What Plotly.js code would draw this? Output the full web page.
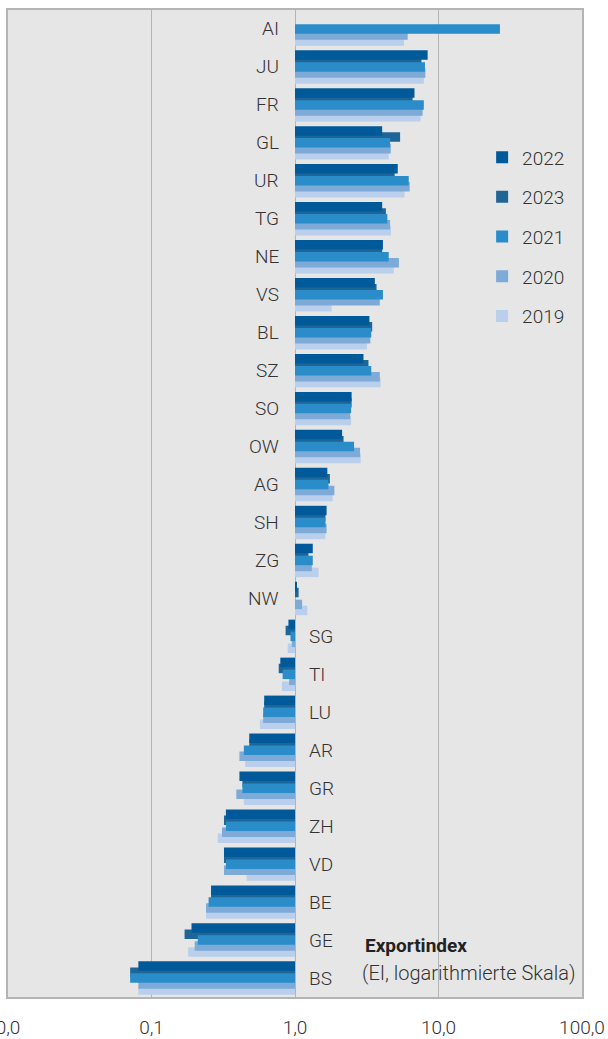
<!DOCTYPE html>
<html>
<head>
<meta charset="utf-8">
<script src="https://cdn.plot.ly/plotly-3.0.1.min.js"></script>
<style>
  html, body { margin: 0; padding: 0; background: #fff; }
  #chart { width: 608px; height: 1039px; }
</style>
</head>
<body>
<div id="chart"></div>
<script>
// Exportindex per Kanton, log scale, bars start at 1.0

var cantons = ['AI', 'JU', 'FR', 'GL', 'UR', 'TG', 'NE', 'VS', 'BL', 'SZ', 'SO', 'OW', 'AG',
               'SH', 'ZG', 'NW', 'SG', 'TI', 'LU', 'AR', 'GR', 'ZH', 'VD', 'BE', 'GE', 'BS'];

var ei2022 = [null, 8.4, 6.8, 4.05, 5.2, 4.05, 4.1, 3.6, 3.3, 3.0, 2.48, 2.13, 1.68,
              1.66, 1.33, 1.02, 0.90, 0.79, 0.61, 0.48, 0.41, 0.33, 0.32, 0.26, 0.19, 0.081];
var ei2023 = [null, 7.6, 6.6, 5.4, 4.95, 4.3, 4.05, 3.7, 3.45, 3.25, 2.48, 2.18, 1.75,
              1.63, 1.24, 1.06, 0.86, 0.77, 0.61, 0.48, 0.43, 0.32, 0.32, 0.26, 0.17, 0.071];
var ei2021 = [26.8, 8.05, 7.9, 4.6, 6.2, 4.4, 4.5, 4.1, 3.4, 3.4, 2.46, 2.58, 1.71,
              1.63, 1.33, 1.0, 0.93, 0.82, 0.60, 0.44, 0.43, 0.33, 0.33, 0.25, 0.21, 0.071];
var ei2020 = [6.1, 8.1, 7.75, 4.65, 6.3, 4.6, 5.3, 3.9, 3.35, 3.9, 2.42, 2.84, 1.88,
              1.66, 1.31, 1.12, 0.95, 0.91, 0.60, 0.41, 0.39, 0.31, 0.32, 0.24, 0.20, 0.081];
var ei2019 = [5.75, 7.9, 7.5, 4.5, 5.8, 4.66, 4.87, 1.8, 3.17, 3.95, 2.46, 2.87, 1.83,
              1.63, 1.46, 1.22, 0.89, 0.81, 0.57, 0.45, 0.44, 0.29, 0.46, 0.24, 0.18, 0.081];

var tickVals = [0.01, 0.1, 1, 10, 100];
var tickText = ['0,0', '0,1', '1,0', '10,0', '100,0'];

var font = 'Roboto, "Open Sans", sans-serif';
var fontSize = 19;

// bars grow from 1.0, so the bar length is value - 1
function fromOne(arr) {
    return arr.map(function (v) { return v === null ? null : v - 1; });
}

function barTrace(name, values, color, offset, rank) {
    return {
        type: 'bar',
        orientation: 'h',
        name: name,
        y: cantons,
        x: fromOne(values),
        base: 1,
        offset: offset,
        width: 0.25,
        legendrank: rank,
        legendgroup: name,
        marker: { color: color, line: { width: 0 } },
        hovertemplate: '%{y}: %{customdata}<extra>' + name + '</extra>',
        customdata: values
    };
}

// drawing order: later traces sit on top
var data = [
    barTrace('2019', ei2019, '#b9cfeb', 0.19, 5),
    barTrace('2020', ei2020, '#7daad7', 0.033, 4),
    barTrace('2023', ei2023, '#1f6697', -0.28, 2),
    barTrace('2022', ei2022, '#005a99', -0.44, 1),
    barTrace('2021', ei2021, '#2a8cc8', -0.125, 3)
];

// canton labels next to the 1.0 line, on the side away from the bars
var annotations = cantons.map(function (c, i) {
    var v = ei2022[i] !== null ? ei2022[i] : ei2021[i];
    var pos = v >= 1;
    return {
        xref: 'x', yref: 'y',
        x: 0, y: c,
        text: c,
        showarrow: false,
        xanchor: pos ? 'right' : 'left',
        xshift: pos ? -14 : 12,
        font: { family: font, size: fontSize, color: '#333333', weight: 300 }
    };
});

annotations.push({
    xref: 'paper', yref: 'paper',
    x: (363 - 8) / 574, y: 1 - (945 - 10) / 987,
    xanchor: 'left', yanchor: 'middle',
    text: '<b>Exportindex</b>',
    showarrow: false,
    font: { family: font, size: 19, color: '#222222' }
});
annotations.push({
    xref: 'paper', yref: 'paper',
    x: (360 - 8) / 574, y: 1 - (973 - 10) / 987,
    xanchor: 'left', yanchor: 'middle',
    text: '(EI, logarithmierte Skala)',
    showarrow: false,
    font: { family: font, size: 20, color: '#333333', weight: 300 }
});

var layout = {
    width: 608,
    height: 1039,
    margin: { l: 8, r: 26, t: 10, b: 42 },
    paper_bgcolor: '#ffffff',
    plot_bgcolor: '#e6e6e6',
    barmode: 'overlay',
    showlegend: true,
    legend: {
        x: 0.826, y: 0.870,
        xanchor: 'left', yanchor: 'top',
        bgcolor: 'rgba(0,0,0,0)',
        tracegroupgap: 12,
        font: { family: font, size: fontSize, color: '#333333', weight: 300 },
        itemwidth: 30
    },
    xaxis: {
        type: 'log',
        range: [-2, 2],
        tickvals: tickVals,
        ticktext: tickText,
        ticks: '',
        ticklabelstandoff: 12,
        ticklabeloverflow: 'allow',
        showgrid: true,
        gridcolor: '#b4b4b4',
        gridwidth: 1,
        zeroline: false,
        showline: true,
        mirror: true,
        linecolor: '#b4b4b4',
        linewidth: 2,
        tickfont: { family: font, size: fontSize, color: '#333333', weight: 300 },
        fixedrange: true
    },
    yaxis: {
        type: 'category',
        range: [25.5, -0.5],
        showticklabels: false,
        ticks: '',
        showgrid: false,
        zeroline: false,
        showline: true,
        mirror: true,
        linecolor: '#b4b4b4',
        linewidth: 2,
        fixedrange: true
    },
    annotations: annotations
};

var config = {
    responsive: false,
    displayModeBar: false
};

Plotly.newPlot('chart', data, layout, config);
</script>
</body>
</html>
